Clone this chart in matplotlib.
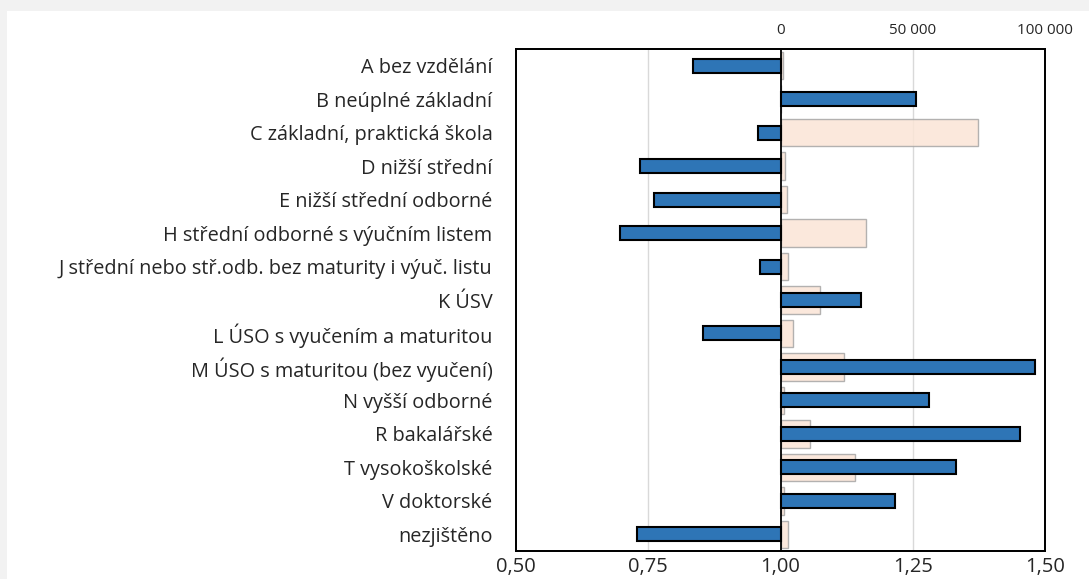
import numpy as np
import matplotlib.pyplot as plt
from matplotlib.patches import Rectangle

plt.rcParams['font.family'] = ['Open Sans', 'DejaVu Sans']

categories = [
    'A bez vzdělání',
    'B neúplné základní',
    'C základní, praktická škola',
    'D nižší střední',
    'E nižší střední odborné',
    'H střední odborné s výučním listem',
    'J střední nebo stř.odb. bez maturity i výuč. listu',
    'K ÚSV',
    'L ÚSO s vyučením a maturitou',
    'M ÚSO s maturitou (bez vyučení)',
    'N vyšší odborné',
    'R bakalářské',
    'T vysokoškolské',
    'V doktorské',
    'nezjištěno',
]
ratio = [0.835, 1.257, 0.958, 0.735, 0.760, 0.697, 0.962, 1.153,
         0.854, 1.481, 1.280, 1.452, 1.332, 1.216, 0.728]
counts = [1000, 300, 74500, 1700, 2400, 32200, 3000, 15000,
          4700, 24000, 1400, 11200, 28300, 1400, 3000]

top_ticks = [0, 50000, 100000]
top_labels = ['0', '50 000', '100 000']
bottom_ticks = [0.50, 0.75, 1.00, 1.25, 1.50]
bottom_labels = ['0,50', '0,75', '1,00', '1,25', '1,50']

text_col = '#262626'
y = np.arange(len(categories))

fig = plt.figure(figsize=(10.89, 5.79), dpi=100)
fig.patch.set_facecolor('white')
# grey frame strips of the source screenshot
fig.patches.append(Rectangle((0, 1 - 11 / 579), 1, 11 / 579, transform=fig.transFigure,
                             facecolor='#f2f2f2', edgecolor='none', zorder=0))
fig.patches.append(Rectangle((0, 0), 7 / 1089, 1, transform=fig.transFigure,
                             facecolor='#f2f2f2', edgecolor='none', zorder=0))

ax = fig.add_axes([516 / 1089, 1 - 551 / 579, (1045 - 516) / 1089, (551 - 49) / 579])

# counts (top axis)
ax.barh(y, counts, height=0.82, color='#fbe5d6', edgecolor='#a6a6a6',
        linewidth=1, alpha=0.85, zorder=2)
ax.set_xlim(-100000, 100000)
ax.set_ylim(len(categories) - 0.5, -0.5)
for xv in [-50000, 50000]:
    ax.axvline(xv, color='#d9d9d9', lw=1, zorder=1)

# ratio (bottom axis)
ax2 = ax.twiny()
ax2.barh(y, np.array(ratio) - 1, left=1, height=0.42, color='#2e75b6',
         edgecolor='black', linewidth=1.5, zorder=3)
ax2.axvline(1.0, color='black', lw=1.3, zorder=2)
ax2.set_xlim(0.5, 1.5)

ax.xaxis.tick_top()
ax.set_xticks(top_ticks)
ax.set_xticklabels(top_labels, fontsize=11, color=text_col)
ax.set_yticks(y)
ax.set_yticklabels(categories, fontsize=14.3, color=text_col)
ax.tick_params(axis='both', length=0)
ax.tick_params(axis='y', pad=17)
ax.tick_params(axis='x', pad=8)

ax2.xaxis.tick_bottom()
ax2.set_xticks(bottom_ticks)
ax2.set_xticklabels(bottom_labels, fontsize=14.5, color=text_col)
ax2.tick_params(axis='x', length=0, pad=4)

for a in (ax, ax2):
    for s in a.spines.values():
        s.set_color('black')
        s.set_linewidth(1.3)

fig.savefig('out.png', dpi=100)
